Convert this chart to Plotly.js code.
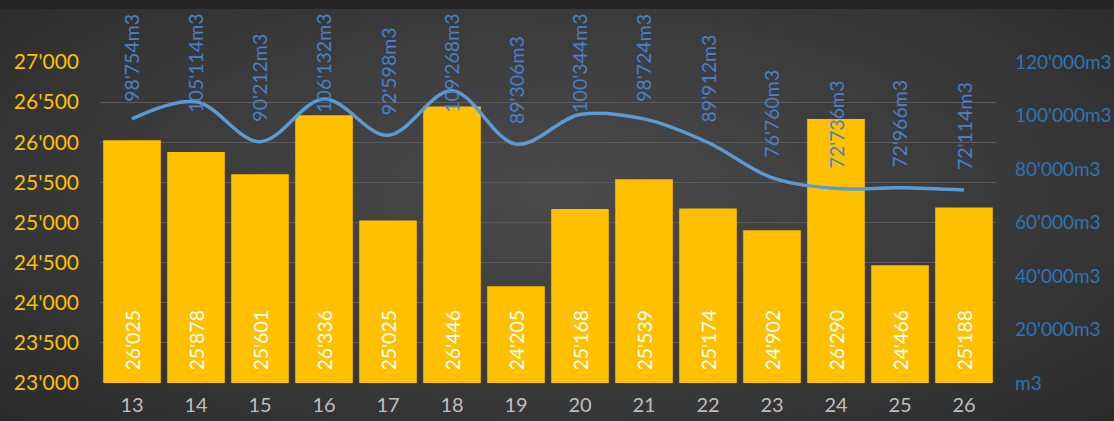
<!DOCTYPE html>
<html>
<head>
<meta charset="utf-8">
<script src="https://cdn.plot.ly/plotly-3.0.1.min.js"></script>
<style>
  html, body { margin: 0; padding: 0; }
  body {
    width: 1114px; height: 421px; overflow: hidden;
    background: #262626;
  }
  #wrap {
    position: absolute; left: 0; top: 9px; width: 1114px; height: 412px;
    background: radial-gradient(ellipse 70% 80% at 50% 45%, #4a4a4a 0%, #3c3c3c 50%, #2a2a2a 100%);
  }
  #chart { position: absolute; left: 0; top: 0; width: 1114px; height: 421px; }
</style>
</head>
<body>
<div id="wrap"></div>
<div id="chart"></div>
<script>
// Weekly data
const weeks = ['13', '14', '15', '16', '17', '18', '19', '20', '21', '22', '23', '24', '25', '26'];
const barValues = [26025, 25878, 25601, 26336, 25025, 26446, 24205, 25168, 25539, 25174, 24902, 26290, 24466, 25188];
const volumeValues = [98754, 105114, 90212, 106132, 92598, 109268, 89306, 100344, 98724, 89912, 76760, 72736, 72966, 72114];

const leftTicks = [23000, 23500, 24000, 24500, 25000, 25500, 26000, 26500, 27000];
const rightTicks = [0, 20000, 40000, 60000, 80000, 100000, 120000];

const fontFamily = 'Lato, "Open Sans", sans-serif';

// Swiss style thousands separator
function fmt(v) {
    return String(v).replace(/\B(?=(\d{3})+(?!\d))/g, "'");
}

const leftTickText = leftTicks.map(fmt);
const rightTickText = rightTicks.map(v => v === 0 ? 'm3' : fmt(v) + 'm3');

const margin = { t: 62, b: 38, l: 100, r: 118 };
const plotHeight = 421 - margin.t - margin.b;
const y2Range = [0, 120000];

// measure rotated label length so labels stay inside the chart area
const ctx = document.createElement('canvas').getContext('2d');
ctx.font = '19.5px Lato';

const annotations = [];

// Bar labels, white, written upward from the base
// (category axis: annotations use the category index)
weeks.forEach((w, i) => {
    annotations.push({
        x: i, y: 23000, xref: 'x', yref: 'y',
        text: fmt(barValues[i]),
        textangle: -90,
        showarrow: false,
        yanchor: 'bottom',
        yshift: 10,
        font: { family: fontFamily, size: 19.5, color: '#ffffff' }
    });
});

// Line labels, blue, above the points
weeks.forEach((w, i) => {
    const label = fmt(volumeValues[i]) + 'm3';
    const pointPx = margin.t + plotHeight * (1 - (volumeValues[i] - y2Range[0]) / (y2Range[1] - y2Range[0]));
    const len = ctx.measureText(label).width;
    let shift = 18;
    if (pointPx - shift - len < 16) shift = pointPx - 16 - len;
    annotations.push({
        x: i, y: volumeValues[i], xref: 'x', yref: 'y2',
        text: label,
        textangle: -90,
        showarrow: false,
        yanchor: 'bottom',
        yshift: shift,
        font: { family: fontFamily, size: 19.5, color: '#4a80cc' }
    });
});

const traces = [
    {
        x: weeks,
        y: barValues,
        type: 'bar',
        name: 'Anzahl',
        marker: { color: '#ffc000' },
        hoverinfo: 'x+y'
    },
    {
        x: weeks,
        y: volumeValues,
        type: 'scatter',
        mode: 'lines',
        name: 'Volumen',
        yaxis: 'y2',
        line: { color: '#5b9bd5', width: 3.5, shape: 'spline', smoothing: 1 },
        hoverinfo: 'x+y'
    }
];

const layout = {
    width: 1114,
    height: 421,
    margin: margin,
    paper_bgcolor: 'rgba(0,0,0,0)',
    plot_bgcolor: 'rgba(0,0,0,0)',
    showlegend: false,
    bargap: 0.1,
    font: { family: fontFamily, size: 19 },
    xaxis: {
        type: 'category',
        showgrid: false,
        zeroline: false,
        showline: false,
        ticks: '',
        tickfont: { family: fontFamily, size: 20, color: '#bfbfbf' },
        ticklabelstandoff: 8
    },
    yaxis: {
        range: [23000, 27000],
        tickvals: leftTicks,
        ticktext: leftTickText,
        showgrid: true,
        gridcolor: '#5a5a5a',
        gridwidth: 1,
        zeroline: false,
        showline: false,
        ticks: '',
        tickfont: { family: fontFamily, size: 21, color: '#ffc000' },
        ticklabelstandoff: 20
    },
    yaxis2: {
        overlaying: 'y',
        side: 'right',
        range: y2Range,
        tickvals: rightTicks,
        ticktext: rightTickText,
        showgrid: false,
        zeroline: false,
        showline: false,
        ticks: '',
        tickfont: { family: fontFamily, size: 19, color: '#2e75b6' },
        ticklabelstandoff: 18
    },
    annotations: annotations
};

Plotly.newPlot('chart', traces, layout, { displayModeBar: false, staticPlot: true });
</script>
</body>
</html>
